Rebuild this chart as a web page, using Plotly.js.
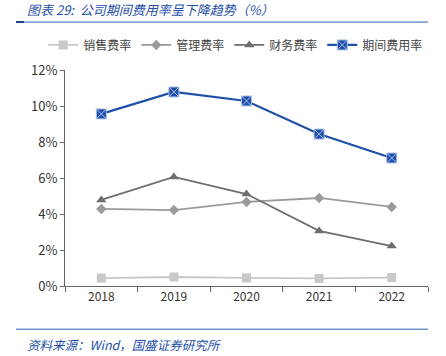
<!DOCTYPE html>
<html><head><meta charset="utf-8">
<script src="https://cdn.plot.ly/plotly-3.0.1.min.js"></script>
<style>html,body{margin:0;padding:0;background:#fff}#c{width:446px;height:356px}</style>
</head><body><div id="c"></div>
<script>
const years = ['2018','2019','2020','2021','2022'];
const sales = [0.44, 0.50, 0.45, 0.42, 0.47];
const admin = [4.28, 4.22, 4.67, 4.89, 4.39];
const finance = [4.78, 6.06, 5.11, 3.06, 2.22];
const period = [9.56, 10.78, 10.28, 8.44, 7.11];
const names = ['销售费率','管理费率','财务费率','期间费用率'];

const font = '"Noto Sans CJK SC", "Liberation Sans", sans-serif';
const traces = [
  {x: years, y: sales, name: names[0], mode: 'lines+markers',
   line: {color: '#C8C8C8', width: 1.8}, marker: {symbol: 'square', size: 9, color: '#C8C8C8'}},
  {x: years, y: admin, name: names[1], mode: 'lines+markers',
   line: {color: '#9A9A9A', width: 1.8}, marker: {symbol: 'diamond', size: 8, color: '#9A9A9A'}},
  {x: years, y: finance, name: names[2], mode: 'lines+markers',
   line: {color: '#6E6E6E', width: 1.8}, marker: {symbol: 'triangle-up', size: 9, color: '#6E6E6E'}},
  {x: years, y: period, name: names[3], mode: 'lines+markers',
   line: {color: '#1F4FA8', width: 2.2}, marker: {symbol: 'square-x', size: 10, color: '#1F4FA8', line: {color: '#A9C1EA', width: 1}}}
];
const layout = {
  width: 446, height: 356,
  margin: {l: 65, r: 18, t: 70, b: 70},
  paper_bgcolor: '#fff', plot_bgcolor: '#fff',
  font: {family: font, size: 12, color: '#333'},
  showlegend: true,
  legend: {orientation: 'h', x: -0.06, xanchor: 'left', y: 1.116, yanchor: 'middle',
           font: {size: 12, color: '#444'}, itemwidth: 30, tracegroupgap: 0},
  xaxis: {type: 'category', range: [-0.5, 4.5], showline: true, linecolor: '#666', linewidth: 1,
          ticks: 'outside', tickson: 'boundaries', ticklen: 5, tickcolor: '#666',
          showgrid: false, tickfont: {size: 12, color: '#333'}, fixedrange: true},
  yaxis: {range: [0, 12], dtick: 2, ticksuffix: '%', showline: true, linecolor: '#666', linewidth: 1,
          ticks: 'outside', ticklen: 4, tickcolor: '#666', showgrid: false, zeroline: false,
          tickfont: {size: 13, color: '#333'}},
  annotations: [
    {xref: 'paper', yref: 'paper', x: -0.11, y: 1.28, xanchor: 'left', yanchor: 'middle',
     text: '<i>图表 29:  公司期间费用率呈下降趋势（%）</i>', showarrow: false,
     font: {size: 13, color: '#1F4FA8', family: font}},
    {xref: 'paper', yref: 'paper', x: -0.11, y: -0.27, xanchor: 'left', yanchor: 'middle',
     text: '<i>资料来源：Wind，国盛证券研究所</i>', showarrow: false,
     font: {size: 12.5, color: '#1F4FA8', family: font}}
  ],
  shapes: [
    {type: 'line', xref: 'paper', yref: 'paper', x0: -0.135, x1: 1.0, y0: 1.222, y1: 1.222,
     line: {color: '#2E5FB0', width: 1}},
    {type: 'line', xref: 'paper', yref: 'paper', x0: -0.135, x1: -0.113, y0: 1.222, y1: 1.222,
     line: {color: '#1F3F8A', width: 2}},
    {type: 'line', xref: 'paper', yref: 'paper', x0: -0.135, x1: 1.0, y0: -0.2, y1: -0.2,
     line: {color: '#2E5FB0', width: 1}}
  ]
};
Plotly.newPlot('c', traces, layout, {displayModeBar: false, staticPlot: true});
</script></body></html>
